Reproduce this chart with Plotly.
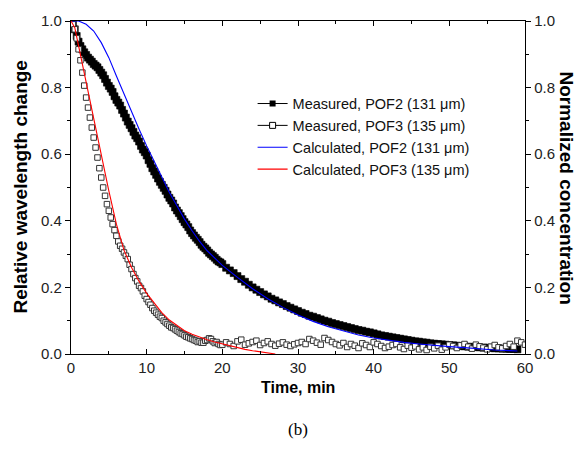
import plotly.graph_objects as go

# ---------------- data ----------------
meas2_t = [0, 0.25, 0.5, 0.75, 1, 1.25, 1.5, 1.75, 2, 2.25, 2.5, 2.75, 3, 3.25, 3.5, 3.75, 4, 4.25, 4.5, 4.75,
           5, 5.25, 5.5, 5.75, 6, 6.25, 6.5, 6.75, 7, 7.25, 7.5, 7.75, 8, 8.25, 8.5, 8.75, 9, 9.25, 9.5, 9.75,
           10, 10.25, 10.5, 10.75, 11, 11.25, 11.5, 11.75, 12, 12.25, 12.5, 12.75, 13, 13.25, 13.5, 13.75, 14, 14.25, 14.5, 14.75,
           15, 15.25, 15.5, 15.75, 16, 16.25, 16.5, 16.75, 17, 17.25, 17.5, 17.75, 18, 18.25, 18.5, 18.75, 19, 19.25, 19.5, 19.75,
           20, 20.5, 21, 21.5, 22, 22.5, 23, 23.5, 24, 24.5, 25, 25.5, 26, 26.5, 27, 27.5, 28, 28.5, 29, 29.5,
           30, 30.5, 31, 31.5, 32, 32.5, 33, 33.5, 34, 34.5, 35, 35.5, 36, 36.5, 37, 37.5, 38, 38.5, 39, 39.5,
           40, 40.5, 41, 41.5, 42, 42.5, 43, 43.5, 44, 44.5, 45, 45.5, 46, 46.5, 47, 47.5, 48, 48.5, 49, 49.5,
           50, 50.5, 51, 51.5, 52, 52.5, 53, 53.5, 54, 54.5, 55, 55.5, 56, 56.5, 57, 57.5, 58, 58.5, 59]
meas2_v = [1.0, 0.995, 0.975, 0.955, 0.938, 0.925, 0.915, 0.906, 0.898, 0.89, 0.884, 0.878, 0.871, 0.866, 0.861, 0.853, 0.845, 0.837, 0.826, 0.815,
           0.805, 0.797, 0.787, 0.774, 0.763, 0.755, 0.746, 0.733, 0.722, 0.71, 0.698, 0.688, 0.678, 0.667, 0.656, 0.648, 0.638, 0.625, 0.614, 0.606,
           0.596, 0.582, 0.571, 0.558, 0.548, 0.538, 0.527, 0.517, 0.508, 0.499, 0.49, 0.479, 0.469, 0.461, 0.452, 0.44, 0.431, 0.423, 0.414, 0.405,
           0.396, 0.389, 0.381, 0.371, 0.363, 0.356, 0.349, 0.343, 0.336, 0.328, 0.322, 0.317, 0.311, 0.304, 0.299, 0.294, 0.289, 0.283, 0.278, 0.275,
           0.27, 0.259, 0.251, 0.243, 0.234, 0.225, 0.217, 0.208, 0.2, 0.193, 0.186, 0.179, 0.173, 0.166, 0.161, 0.155, 0.15, 0.144, 0.139, 0.134,
           0.129, 0.124, 0.12, 0.115, 0.112, 0.108, 0.104, 0.1, 0.097, 0.093, 0.09, 0.087, 0.084, 0.081, 0.078, 0.075, 0.072, 0.07, 0.067, 0.065,
           0.062, 0.059, 0.056, 0.054, 0.052, 0.05, 0.048, 0.046, 0.044, 0.042, 0.04, 0.038, 0.037, 0.035, 0.034, 0.032, 0.031, 0.03, 0.029, 0.028,
           0.027, 0.026, 0.025, 0.024, 0.023, 0.022, 0.021, 0.021, 0.02, 0.019, 0.019, 0.018, 0.017, 0.017, 0.016, 0.016, 0.015, 0.015, 0.014]

meas3_t = [0, 0.25, 0.5, 0.75, 1, 1.25, 1.5, 1.75, 2, 2.25, 2.5, 2.75, 3, 3.25, 3.5, 3.75, 4, 4.25, 4.5, 4.75,
           5, 5.25, 5.5, 5.75, 6, 6.25, 6.5, 6.75, 7, 7.25, 7.5, 7.75, 8, 8.25, 8.5, 8.75, 9, 9.25, 9.5, 9.75,
           10, 10.25, 10.5, 10.75, 11, 11.25, 11.5, 11.75, 12, 12.25, 12.5, 12.75, 13, 13.25, 13.5, 13.75, 14, 14.25, 14.5, 14.75,
           15, 15.25, 15.5, 15.75, 16, 16.25, 16.5, 16.75, 17, 17.25, 17.5, 17.75, 18, 18.25, 18.5, 18.75, 19, 19.25, 19.5, 19.75,
           20, 20.5, 21, 21.5, 22, 22.5, 23, 23.5, 24, 24.5, 25, 25.5, 26, 26.5, 27, 27.5, 28, 28.5, 29, 29.5,
           30, 30.5, 31, 31.5, 32, 32.5, 33, 33.5, 34, 34.5, 35, 35.5, 36, 36.5, 37, 37.5, 38, 38.5, 39, 39.5,
           40, 40.5, 41, 41.5, 42, 42.5, 43, 43.5, 44, 44.5, 45, 45.5, 46, 46.5, 47, 47.5, 48, 48.5, 49, 49.5,
           50, 50.5, 51, 51.5, 52, 52.5, 53, 53.5, 54, 54.5, 55, 55.5, 56, 56.5, 57, 57.5, 58, 58.5, 59, 59.5, 60]
meas3_v = [1.0, 0.99, 0.975, 0.948, 0.915, 0.882, 0.845, 0.806, 0.77, 0.74, 0.71, 0.68, 0.65, 0.62, 0.59, 0.558, 0.53, 0.5, 0.475, 0.45,
           0.43, 0.41, 0.39, 0.372, 0.355, 0.338, 0.325, 0.316, 0.305, 0.295, 0.285, 0.268, 0.255, 0.24, 0.228, 0.218, 0.205, 0.198, 0.188, 0.175,
           0.165, 0.156, 0.148, 0.138, 0.13, 0.124, 0.118, 0.112, 0.108, 0.1, 0.095, 0.09, 0.085, 0.08, 0.078, 0.074, 0.07, 0.066, 0.062, 0.06,
           0.056, 0.052, 0.05, 0.047, 0.045, 0.042, 0.04, 0.036, 0.038, 0.034, 0.034, 0.04, 0.042, 0.047, 0.045, 0.038, 0.033, 0.036, 0.03, 0.027,
           0.028, 0.035, 0.03, 0.024, 0.038, 0.043, 0.028, 0.032, 0.036, 0.04, 0.027, 0.033, 0.038, 0.03, 0.025, 0.031, 0.035, 0.028, 0.024, 0.029,
           0.033, 0.036, 0.03, 0.045, 0.04, 0.034, 0.028, 0.048, 0.042, 0.036, 0.03, 0.026, 0.033, 0.021, 0.03, 0.025, 0.018, 0.032, 0.027, 0.021,
           0.035, 0.03, 0.024, 0.018, 0.022, 0.027, 0.03, 0.02, 0.015, 0.025, 0.019, 0.023, 0.014, 0.02, 0.012, 0.022, 0.017, 0.025, 0.013, 0.02,
           0.028, 0.024, 0.018, 0.026, 0.03, 0.022, 0.016, 0.028, 0.023, 0.019, 0.014, 0.022, 0.027, 0.02, 0.017, 0.024, 0.03, 0.022, 0.04, 0.035, 0.028]

calc2_t = [0, 1, 2, 3, 4, 5, 6, 7, 8, 9, 10, 11, 12, 13, 14, 15, 16, 17, 18, 19, 20,
           22, 24, 26, 28, 30, 32, 34, 36, 38, 40, 42, 44, 46, 48, 50, 52, 54, 56, 58, 59]
calc2_v = [1.0, 1.0, 0.99, 0.97, 0.935, 0.89, 0.835, 0.78, 0.725, 0.675, 0.625, 0.578, 0.53, 0.485, 0.445, 0.405, 0.37, 0.338, 0.31, 0.287, 0.266,
           0.23, 0.196, 0.166, 0.14, 0.117, 0.098, 0.082, 0.069, 0.057, 0.048, 0.041, 0.035, 0.03, 0.025, 0.022, 0.019, 0.015, 0.012, 0.01, 0.009]

calc3_t = [0, 0.5, 1, 2, 3, 4, 5, 6, 7, 8, 9, 10, 11, 12, 13, 14, 15, 16, 17, 18, 19, 20,
           21, 22, 23, 24, 25, 26, 27]
calc3_v = [1.0, 0.98, 0.925, 0.815, 0.705, 0.595, 0.49, 0.39, 0.312, 0.26, 0.218, 0.182, 0.152, 0.124, 0.102, 0.085, 0.07, 0.059, 0.05, 0.043, 0.036, 0.03,
           0.024, 0.019, 0.014, 0.01, 0.006, 0.003, 0.0]

legend_names = ["Measured, POF2 (131 \u03bcm)", "Measured, POF3 (135 \u03bcm)",
                "Calculated, POF2 (131 \u03bcm)", "Calculated, POF3 (135 \u03bcm)"]
y_ticks = [0.0, 0.2, 0.4, 0.6, 0.8, 1.0]
x_ticks = [0, 10, 20, 30, 40, 50, 60]

# ---------------- figure ----------------
FONT = "Liberation Sans, Arial, sans-serif"
fig = go.Figure()

fig.add_trace(go.Scatter(x=meas2_t, y=meas2_v, mode="markers", showlegend=False,
                         marker=dict(symbol="square", size=7, color="black", line=dict(width=0.6, color="black"))))
fig.add_trace(go.Scatter(x=meas3_t, y=meas3_v, mode="markers", showlegend=False,
                         marker=dict(symbol="square", size=5.5, color="white", line=dict(width=1, color="#333333"))))
fig.add_trace(go.Scatter(x=calc2_t, y=calc2_v, mode="lines", showlegend=False, yaxis="y2",
                         line=dict(color="#0000ff", width=1.1)))
fig.add_trace(go.Scatter(x=calc3_t, y=calc3_v, mode="lines", showlegend=False, yaxis="y2",
                         line=dict(color="#ff0000", width=1.1)))

# legend entries
fig.add_trace(go.Scatter(x=[None], y=[None], mode="lines+markers", name=legend_names[0],
                         line=dict(color="black", width=1),
                         marker=dict(symbol="square", size=6, color="black")))
fig.add_trace(go.Scatter(x=[None], y=[None], mode="lines+markers", name=legend_names[1],
                         line=dict(color="black", width=1),
                         marker=dict(symbol="square", size=6, color="white", line=dict(width=1, color="black"))))
fig.add_trace(go.Scatter(x=[None], y=[None], mode="lines", name=legend_names[2],
                         line=dict(color="#0000ff", width=1.2)))
fig.add_trace(go.Scatter(x=[None], y=[None], mode="lines", name=legend_names[3],
                         line=dict(color="#ff0000", width=1.2)))

axis_common = dict(showline=True, linecolor="black", linewidth=1.3, showgrid=False, zeroline=False,
                   tickcolor="black", tickfont=dict(family=FONT, size=15, color="#222222"))

fig.update_layout(
    width=584, height=455,
    margin=dict(l=71, r=59, t=17, b=101),
    paper_bgcolor="white", plot_bgcolor="white",
    font=dict(family=FONT, size=15, color="black"),
    xaxis=dict(range=[0, 60], tickvals=x_ticks, ticks="inside", ticklen=5, tickwidth=1,
               mirror="ticks", minor=dict(dtick=5, ticks="inside", ticklen=3, tickcolor="black"),
               **axis_common),
    yaxis=dict(range=[0, 1.0], tickvals=y_ticks, tickformat=".1f", ticks="outside", ticklen=5, tickwidth=1,
               minor=dict(dtick=0.1, ticks="outside", ticklen=3, tickcolor="black"), **axis_common),
    yaxis2=dict(range=[0, 1.0], tickvals=y_ticks, tickformat=".1f", overlaying="y", side="right",
                ticks="outside", ticklen=5, tickwidth=1,
                minor=dict(dtick=0.1, ticks="outside", ticklen=3, tickcolor="black"), **axis_common),
    legend=dict(x=0.40, y=0.80, xanchor="left", yanchor="top", bgcolor="rgba(0,0,0,0)",
                font=dict(family=FONT, size=14.5, color="#111111"), tracegroupgap=0, itemwidth=30),
    annotations=[
        dict(text="<b>Relative wavelength change</b>", x=0, y=0.5, xref="paper", yref="paper",
             textangle=-90, xanchor="center", yanchor="middle", xshift=-51, showarrow=False,
             font=dict(family=FONT, size=19, color="black")),
        dict(text="<b>Normalized concentration</b>", x=1, y=0.5, xref="paper", yref="paper",
             textangle=90, xanchor="center", yanchor="middle", xshift=41, showarrow=False,
             font=dict(family=FONT, size=19, color="black")),
        dict(text="<b>Time, min</b>", x=0.5, y=0, xref="paper", yref="paper",
             xanchor="center", yanchor="middle", yshift=-33, showarrow=False,
             font=dict(family=FONT, size=16, color="black")),
        dict(text="(b)", x=0.5, y=0, xref="paper", yref="paper",
             xanchor="center", yanchor="middle", yshift=-75, showarrow=False,
             font=dict(family="Liberation Serif, Times New Roman, serif", size=17, color="black")),
    ],
)

fig.write_html("out.html", config={"displayModeBar": False},
               post_script="document.body.style.margin='0';")
